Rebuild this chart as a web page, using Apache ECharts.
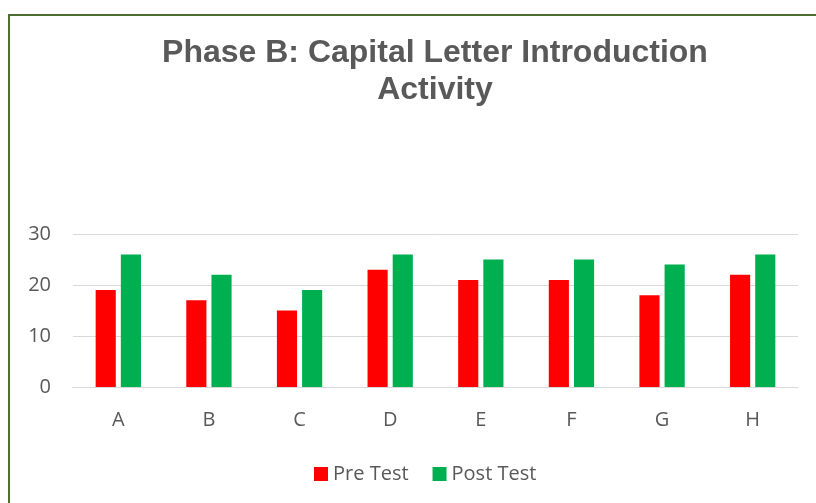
<!DOCTYPE html>
<html>
<head>
<meta charset="utf-8">
<script src="https://cdn.jsdelivr.net/npm/echarts@6/dist/echarts.min.js"></script>
<style>
  html, body { margin: 0; padding: 0; background: #fff; }
  #main { width: 816px; height: 503px; }
</style>
</head>
<body>
<div id="main"></div>
<script>
var categories = ['A', 'B', 'C', 'D', 'E', 'F', 'G', 'H'];
var preTest = [19, 17, 15, 23, 21, 21, 18, 22];
var postTest = [26, 22, 19, 26, 25, 25, 24, 26];
var yTicks = { min: 0, max: 30, interval: 10 };

window.onload = function() {
  var ch = echarts.init(document.getElementById('main'));
  var op = {
    animation: false,
    backgroundColor: '#fff',
    title: {
      text: 'Phase B: Capital Letter Introduction\nActivity',
      left: 430,
      textAlign: 'center',
      top: 30,
      textStyle: {
        fontFamily: 'Liberation Sans',
        fontWeight: 'bold',
        fontSize: 32,
        lineHeight: 37,
        color: '#595959'
      }
    },
    graphic: [{
      type: 'rect',
      shape: { x: 9, y: 15, width: 900, height: 600 },
      style: { fill: 'none', stroke: '#4f6f32', lineWidth: 2 },
      silent: true
    }],
    legend: {
      data: ['Pre Test', 'Post Test'],
      left: 309,
      top: 459,
      itemWidth: 14,
      itemHeight: 14,
      itemGap: 24,
      icon: 'rect',
      textStyle: { fontFamily: 'Open Sans', fontSize: 20, color: '#595959' }
    },
    grid: {
      left: 73,
      right: 18,
      top: 234,
      bottom: 116
    },
    xAxis: {
      type: 'category',
      data: categories,
      axisLine: { lineStyle: { color: '#d9d9d9', width: 1 } },
      axisTick: { show: false },
      axisLabel: {
        margin: 23,
        fontFamily: 'Open Sans',
        fontSize: 20,
        color: '#595959'
      }
    },
    yAxis: {
      type: 'value',
      min: yTicks.min,
      max: yTicks.max,
      interval: yTicks.interval,
      axisLine: { show: false },
      axisTick: { show: false },
      splitLine: { lineStyle: { color: '#d9d9d9', width: 1 } },
      axisLabel: {
        margin: 22,
        fontFamily: 'Open Sans',
        fontSize: 20,
        color: '#595959'
      }
    },
    series: [{
      name: 'Pre Test',
      type: 'bar',
      data: preTest,
      barGap: '25%',
      barCategoryGap: '50%',
      itemStyle: { color: '#ff0000' }
    }, {
      name: 'Post Test',
      type: 'bar',
      data: postTest,
      itemStyle: { color: '#00b050' }
    }]
  };
  ch.setOption(op);
};
</script>
</body>
</html>
